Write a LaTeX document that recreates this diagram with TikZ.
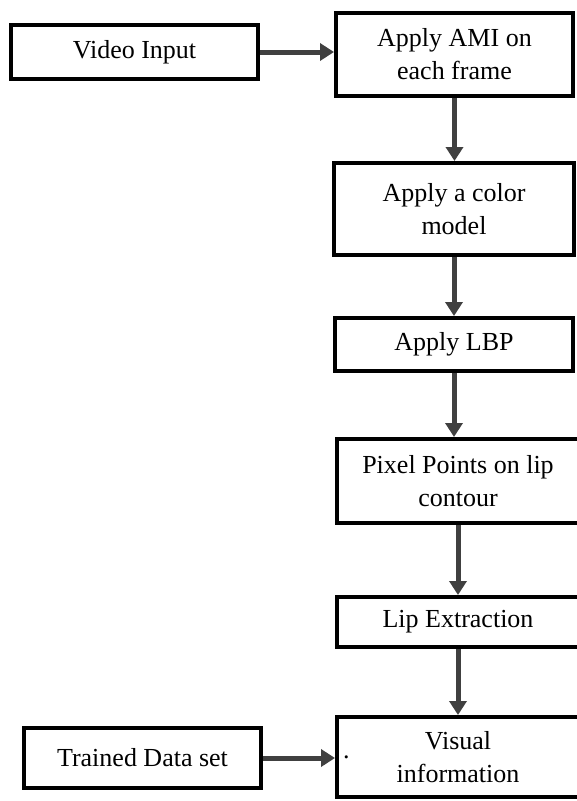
\documentclass[tikz,border=0pt]{standalone}
\usepackage{fontspec}
\setmainfont{Liberation Serif}
\usetikzlibrary{positioning, arrows.meta, calc}
\definecolor{arrowgray}{RGB}{64,64,64}

\begin{document}
\begin{tikzpicture}[x=1pt, y=-1pt,
				font=\fontsize{26}{33}\selectfont,
				stepbox/.style={draw=black, line width=4pt, align=center, inner sep=0pt, fill=white},
				flow/.style={draw=arrowgray, line width=5pt, -{Triangle[length=14pt, width=17pt]}}]
				\useasboundingbox[fill=white] (0,0) rectangle (576,801);
				\node[stepbox, minimum width=247pt, minimum height=54pt] (video) at (134.5,52) {Video Input};
				\node[stepbox, minimum width=237pt, minimum height=83pt] (ami) at (454.5,54.5) {Apply AMI on\\each frame};
				\node[stepbox, minimum width=240pt, minimum height=92pt] (color) at (454,209) {Apply a color\\model};
				\node[stepbox, minimum width=238pt, minimum height=53pt] (lbp) at (454,344.5) {Apply LBP};
				\node[stepbox, minimum width=242pt, minimum height=84pt] (pixel) at (458,481) {Pixel Points on lip\\contour};
				\node[stepbox, minimum width=242pt, minimum height=50pt] (lip) at (458,622) {Lip Extraction};
				\node[stepbox, minimum width=242pt, minimum height=80pt,
					label={[anchor=west, inner sep=8pt]west:.}] (visual) at (458,757) {Visual\\information};
				\node[stepbox, minimum width=237pt, minimum height=60pt] (trained) at (142.5,758) {Trained Data set};
				\draw[flow] (video.east) -- (video.east -| ami.west);
				\draw[flow] (ami.south) -- (ami.south |- color.north);
				\draw[flow] (color.south) -- (color.south |- lbp.north);
				\draw[flow] (lbp.south) -- (lbp.south |- pixel.north);
				\draw[flow] (pixel.south) -- (pixel.south |- lip.north);
				\draw[flow] (lip.south) -- (lip.south |- visual.north);
				\draw[flow] (trained.east) -- (trained.east -| visual.west);
			\end{tikzpicture}
\end{document}
